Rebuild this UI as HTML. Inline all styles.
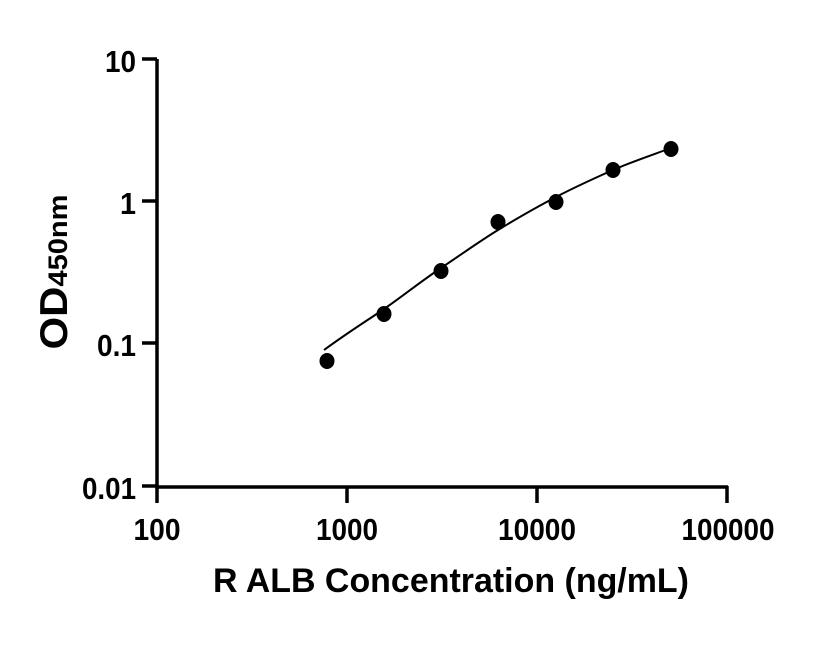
<!DOCTYPE html>
<html><head><style>body{margin:0;background:#fff}</style></head><body>
<svg width="816" height="640" xmlns="http://www.w3.org/2000/svg" font-family="Liberation Sans, sans-serif" font-weight="bold">
<g stroke="#000" stroke-width="3.5" fill="none">
<path d="M157 59 V487 H728"/>
<path d="M142 59 H157 M142 201 H157 M142 343 H157 M142 486 H157"/>
<path d="M157 486 V503 M347 486 V503 M537 486 V503 M727 486 V503"/>
</g>
<g font-size="31" text-anchor="end">
<text x="136" y="72" textLength="31" lengthAdjust="spacingAndGlyphs">10</text>
<text x="136" y="214" textLength="16" lengthAdjust="spacingAndGlyphs">1</text>
<text x="136" y="356" textLength="39" lengthAdjust="spacingAndGlyphs">0.1</text>
<text x="136" y="499" textLength="54" lengthAdjust="spacingAndGlyphs">0.01</text>
</g>
<g font-size="31" text-anchor="middle">
<text x="157" y="540" textLength="47" lengthAdjust="spacingAndGlyphs">100</text>
<text x="347" y="540" textLength="62" lengthAdjust="spacingAndGlyphs">1000</text>
<text x="537" y="540" textLength="78" lengthAdjust="spacingAndGlyphs">10000</text>
<text x="728" y="540" textLength="93" lengthAdjust="spacingAndGlyphs">100000</text>
</g>
<text x="451" y="592" font-size="34" text-anchor="middle" textLength="476" lengthAdjust="spacingAndGlyphs">R ALB Concentration (ng/mL)</text>
<text transform="translate(67,272) rotate(-90)" font-size="39" text-anchor="middle" textLength="155" lengthAdjust="spacingAndGlyphs">OD<tspan font-size="27">450nm</tspan></text>
<path d="M324 350 C350 331 365 322 384 309 S420 282 441 268 S480 241 498 230 S535 208 556 197 S595 178 613 170 S655 154 671 148" stroke="#000" stroke-width="2" fill="none"/>
<g fill="#000">
<ellipse cx="327" cy="361" rx="7.5" ry="8"/><ellipse cx="384" cy="314" rx="7.5" ry="8"/><ellipse cx="441" cy="271" rx="7.5" ry="8"/><ellipse cx="498" cy="222" rx="7.5" ry="8"/><ellipse cx="556" cy="202" rx="7.5" ry="8"/><ellipse cx="613" cy="170" rx="7.5" ry="8"/><ellipse cx="671" cy="149" rx="7.5" ry="8"/>
</g>
</svg>
</body></html>
